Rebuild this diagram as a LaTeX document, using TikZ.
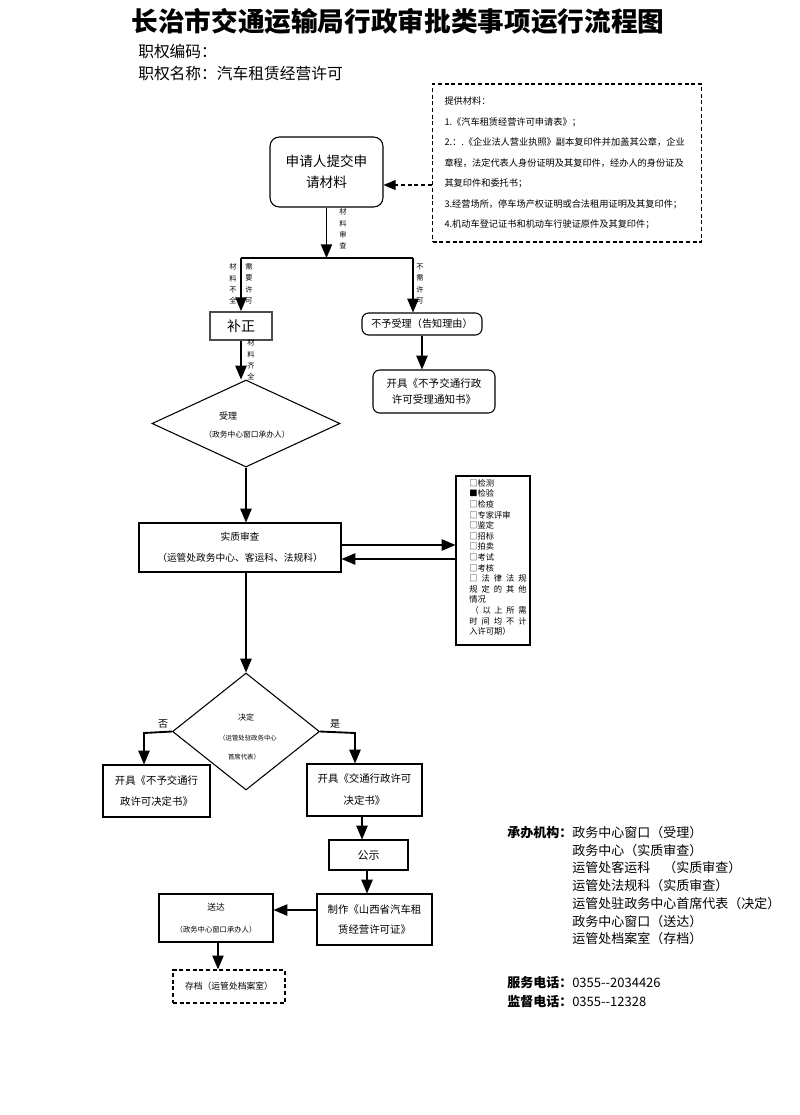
\documentclass[tikz,border=0pt]{standalone}
\usepackage{fontspec}
\setmainfont{Noto Sans CJK SC}
\usepackage{tikz}
\usetikzlibrary{arrows,positioning,calc,shapes.geometric}
\newcommand{\setfs}[2]{\fontsize{#1}{#2}\selectfont}
\tikzstyle{procbox}=[draw,rectangle,line width=0.8pt,inner sep=0pt,align=center]
\tikzstyle{roundbox}=[procbox,rounded corners=5pt]
\tikzstyle{dashbox}=[procbox,dash pattern=on 3pt off 2pt,line width=1.1pt]
\tikzstyle{decide}=[draw,diamond,line width=0.8pt,inner sep=0pt]
\tikzstyle{flow}=[line width=1.4pt,-triangle 45]
\tikzstyle{dashflow}=[line width=1.1pt,dash pattern=on 3pt off 2pt,-triangle 45]
\tikzstyle{vlabel}=[inner sep=0pt,align=center,font=\setfs{5.4}{8.5}]
\tikzstyle{plain}=[inner sep=0pt,align=center]

\begin{document}
\begin{tikzpicture}[x=0.75pt,y=-0.75pt]
    \useasboundingbox (0,0) rectangle (800,1115);
    % heading
    \node [plain,font=\setfs{20}{24}\bfseries] (title) at (398,21) {长治市交通运输局行政审批类事项运行流程图};
    \node [plain,anchor=west,font=\setfs{11.8}{14}] (code) at (138,52) {职权编码：};
    \node [plain,anchor=west,font=\setfs{11.8}{14}] (name) at (138,74) {职权名称：汽车租赁经营许可};

    % application
    \node [roundbox,rounded corners=7pt,minimum width=84.75pt,minimum height=52.5pt,font=\setfs{10.2}{15.75}] (apply) at (326.5,172) {申请人提交申\\请材料};
    \node [dashbox,align=left,text width=183.75pt,inner xsep=9pt,minimum height=118.5pt,font=\setfs{6.9}{15.4}] (mats) at (567,163) {提供材料：\\
      1.《汽车租赁经营许可申请表》；\\
      2.：.《企业法人营业执照》副本复印件并加盖其公章，企业\\
      章程，法定代表人身份证明及其复印件，经办人的身份证及\\
      其复印件和委托书；\\
      3.经营场所，停车场产权证明或合法租用证明及其复印件；\\
      4.机动车登记证书和机动车行驶证原件及其复印件；};
    \draw [dashflow] (mats.west |- 0,185) -- (apply.east |- 0,185);

    % first check
    \coordinate (forkL) at (241,258);
    \coordinate (forkR) at (413,258);
    \node [procbox,draw=black!70,line width=1.4pt,minimum width=46.5pt,minimum height=21pt,font=\setfs{10.5}{12}] (fix) at (241,326) {补正};
    \node [roundbox,minimum width=90pt,minimum height=16.5pt,font=\setfs{7.6}{9}] (reject) at (422,324) {不予受理（告知理由）};
    \node [roundbox,minimum width=91.5pt,minimum height=32.25pt,font=\setfs{7.9}{11.3}] (rejnote) at (434,391.5) {开具《不予交通行政\\许可受理通知书》};
    \draw [flow] (apply.south) -- (apply.south |- forkL);
    \draw [line width=1pt] (forkL) -- (forkR);
    \draw [flow] (forkL) -- (fix.north);
    \draw [flow] (forkR) -- (forkR |- reject.north);
    \draw [flow] (reject.south) -- (reject.south |- rejnote.north);
    \node [vlabel] (lblcheck) at (343,229) {材\\料\\审\\查};
    \node [vlabel] (lbllack) at (233,284) {材\\料\\不\\全};
    \node [vlabel] (lblneed) at (249,284) {需\\要\\许\\可};
    \node [vlabel] (lblnoneed) at (420,284) {不\\需\\许\\可};

    % acceptance
    \node [decide,minimum width=141pt,minimum height=65.25pt] (accept) at (246,423.5) {};
    \node [plain,font=\setfs{6.75}{8}] (acceptlbl) at (228,416) {受理};
    \node [plain,font=\setfs{5.8}{7}] (acceptsub) at (247,435) {（政务中心窗口承办人）};
    \draw [flow] (fix.south) -- (fix.south |- accept.north);
    \node [vlabel] (lblfull) at (251,360) {材\\料\\齐\\全};

    % review
    \node [procbox,minimum width=151.5pt,minimum height=36.75pt,font=\setfs{7.3}{15.75}] (review) at (240,547.5) {实质审查\\（运管处政务中心、客运科、法规科）};
    \draw [flow] (accept.south) -- (accept.south |- review.north);
    \node [procbox,minimum width=55.5pt,minimum height=126.75pt] (check) at (493,560.5) {};
    \node [plain,anchor=north west,align=left,font=\setfs{6.2}{7.95}] (checklist) at (469,479) {□检测\\■检验\\□检疫\\□专家评审\\□鉴定\\□招标\\□拍卖\\□考试\\□考核\\
      \makebox[43pt][s]{□ 法 律 法 规}\\\makebox[43pt][s]{规 定 的 其 他}\\情况\\
      \makebox[43pt][s]{\,（ 以 上 所 需}\\\makebox[43pt][s]{时 间 均 不 计}\\入许可期）};
    \draw [flow] (review.east |- 0,545) -- (check.west |- 0,545);
    \draw [flow] (check.west |- 0,559) -- (review.east |- 0,559);

    % decision
    \node [decide,minimum width=110.25pt,minimum height=87.75pt] (decide) at (246,731.5) {};
    \node [plain,font=\setfs{6}{7}] (decidelbl) at (246,717) {决定};
    \node [plain,font=\setfs{4.8}{6}] (decidesub) at (248,738) {（运管处驻政务中心};
    \node [plain,font=\setfs{4.8}{6}] (decidesub2) at (244,757) {首席代表）};
    \draw [flow] (decide.north |- review.south) -- (decide.north);
    \node [plain,font=\setfs{7.5}{9}] (lblno) at (163,724) {否};
    \node [plain,font=\setfs{7.5}{9}] (lblyes) at (335,724) {是};
    \node [procbox,minimum width=80.25pt,minimum height=39pt,font=\setfs{7.8}{15.75}] (deny) at (156.5,791) {开具《不予交通行\\政许可决定书》};
    \node [procbox,minimum width=86.25pt,minimum height=39pt,font=\setfs{7.8}{16.5}] (grant) at (364.5,790) {开具《交通行政许可\\决定书》};
    \coordinate (noturn) at (144,733);
    \coordinate (yesturn) at (355,733);
    \draw [flow] (decide.west) -- (noturn) -- (noturn |- deny.north);
    \draw [flow] (decide.east) -- (yesturn) -- (yesturn |- grant.north);

    % issue and delivery
    \node [procbox,minimum width=59.25pt,minimum height=22.5pt,font=\setfs{8.25}{10}] (publish) at (368.5,855) {公示};
    \node [procbox,minimum width=86.25pt,minimum height=38.25pt,font=\setfs{7.8}{15}] (make) at (374.5,919.5) {制作《山西省汽车租\\赁经营许可证》};
    \node [procbox,minimum width=85.5pt,minimum height=36pt,font=\setfs{6.5}{16.5}] (deliver) at (216,918) {送达\\{\setfs{5.5}{7}（政务中心窗口承办人）}};
    \node [dashbox,minimum width=84pt,minimum height=24.75pt,font=\setfs{6.6}{8}] (archive) at (229,986.5) {存档（运管处档案室）};
    \draw [flow] (grant.south -| 362,0) -- (publish.north -| 362,0);
    \draw [flow] (publish.south -| 367,0) -- (make.north -| 367,0);
    \draw [flow] (make.west |- 0,910) -- (deliver.east |- 0,910);
    \draw [flow] (deliver.south -| 218,0) -- (archive.north -| 218,0);

    % offices and phones
    \node [plain,anchor=north west,align=left,font=\setfs{9.75}{13.3}] (orgs) at (507,826) {\textbf{承办机构：}政务中心窗口（受理）\\
      \hphantom{\textbf{承办机构：}}政务中心（实质审查）\\
      \hphantom{\textbf{承办机构：}}运管处客运科\hspace{1em}（实质审查）\\
      \hphantom{\textbf{承办机构：}}运管处法规科（实质审查）\\
      \hphantom{\textbf{承办机构：}}运管处驻政务中心首席代表（决定）\\
      \hphantom{\textbf{承办机构：}}政务中心窗口（送达）\\
      \hphantom{\textbf{承办机构：}}运管处档案室（存档）};
    \node [plain,anchor=north west,align=left,font=\setfs{9.75}{14.25}] (phones) at (507,976) {\textbf{服务电话：}0355-{}-2034426\\
      \textbf{监督电话：}0355-{}-12328};
\end{tikzpicture}
\end{document}
